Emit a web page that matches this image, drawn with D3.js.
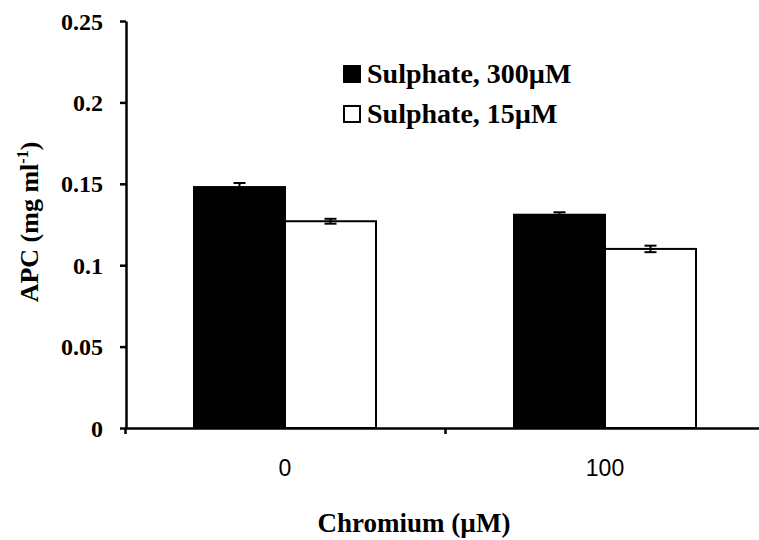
<!DOCTYPE html>
<html>
<head>
<meta charset="utf-8">
<script src="https://cdn.jsdelivr.net/npm/d3@7"></script>
<style>
  body { margin: 0; background: #fff; }
  svg { display: block; }
  .serif { font-family: "Liberation Serif", "Times New Roman", Tinos, "DejaVu Serif", serif; font-weight: bold; }
  .sans { font-family: "Liberation Sans", Arial, sans-serif; }
</style>
</head>
<body>
<svg width="759" height="540"></svg>
<script>

// Chart values
const categories = ["0", "100"];
const seriesNames = ["Sulphate, 300\u00b5M", "Sulphate, 15\u00b5M"];
const highSulphate = [0.148, 0.131];
const lowSulphate = [0.127, 0.110];
const highErr = [0.0025, 0.0015];
const lowErr = [0.0015, 0.002];
const yTicks = [0, 0.05, 0.1, 0.15, 0.2, 0.25];
const yTickLabels = ["0", "0.05", "0.1", "0.15", "0.2", "0.25"];

const fills = ["#000", "#fff"];

drawChart();

/* - - - - - - - - - - - - - - - - - - - - - - - - - -
 * Grouped bar chart with error bars
 * - - - - - - - - - - - - - - - - - - - - - - - - - -
 */
function drawChart(){

    let svg = d3.select("svg");

    let x0 = d3.scaleBand()
        .domain(categories)
        .range([125, 765])
        .padding(0);

    let x1 = d3.scaleBand()
        .domain(seriesNames)
        .range([69, 251])
        .padding(0);

    let y = d3.scaleLinear()
        .domain([0, 0.25])
        .range([428, 21]);

    // one row per bar
    let rows = [];
    categories.forEach(function(c, i){
        rows.push({cat: c, s: seriesNames[0], v: highSulphate[i], e: highErr[i], fill: fills[0]});
        rows.push({cat: c, s: seriesNames[1], v: lowSulphate[i], e: lowErr[i], fill: fills[1]});
    });

    // bars
    svg.append("g")
       .selectAll("rect")
       .data(rows)
       .enter()
       .append("rect")
       .attr("x", function(d){return x0(d.cat) + x1(d.s)})
       .attr("y", function(d){return y(d.v)})
       .attr("width", x1.bandwidth())
       .attr("height", function(d){return y(0) - y(d.v)})
       .attr("fill", function(d){return d.fill})
       .attr("stroke", "#000")
       .attr("stroke-width", 2);

    // error bars
    let err = svg.append("g")
        .attr("stroke", "#000")
        .attr("stroke-width", 2);

    rows.forEach(function(d){
        let cx = x0(d.cat) + x1(d.s) + x1.bandwidth() / 2;
        err.append("line")
           .attr("x1", cx).attr("x2", cx)
           .attr("y1", y(d.v - d.e)).attr("y2", y(d.v + d.e));
        [d.v - d.e, d.v + d.e].forEach(function(v){
            err.append("line")
               .attr("x1", cx - 6).attr("x2", cx + 6)
               .attr("y1", y(v)).attr("y2", y(v));
        });
    });

    // y axis
    let yAxis = svg.append("g")
        .attr("transform", "translate(126,0)")
        .call(d3.axisLeft(y)
                .tickValues(yTicks)
                .tickFormat(function(d, i){return yTickLabels[i]})
                .tickSize(6)
                .tickSizeOuter(0)
                .tickPadding(17));

    yAxis.attr("font-family", null).attr("font-size", null);

    yAxis.selectAll("path, line")
         .attr("stroke", "#000")
         .attr("stroke-width", 2.5);

    yAxis.selectAll("text")
         .attr("class", "serif")
         .attr("font-size", 24)
         .attr("fill", "#000")
         .attr("dy", "0.34em");

    // x axis: ticks at group boundaries
    let xEdges = d3.scaleLinear()
        .domain([0, categories.length])
        .range(x0.range());

    let xAxis = svg.append("g")
        .attr("transform", "translate(0,428)")
        .call(d3.axisBottom(xEdges)
                .tickValues(d3.range(categories.length + 1))
                .tickFormat("")
                .tickSize(6)
                .tickSizeOuter(0));

    xAxis.selectAll("path, line")
         .attr("stroke", "#000")
         .attr("stroke-width", 2.5);

    // x labels at group centres
    let xLabels = svg.append("g")
        .attr("transform", "translate(0,428)")
        .call(d3.axisBottom(x0).tickSize(0).tickPadding(32));

    xLabels.attr("font-family", null).attr("font-size", null);
    xLabels.select(".domain").remove();
    xLabels.selectAll("text")
           .attr("class", "sans")
           .attr("font-size", 23)
           .attr("fill", "#000");

    // axis titles
    svg.append("text")
       .attr("class", "serif")
       .attr("x", 414)
       .attr("y", 532)
       .attr("text-anchor", "middle")
       .attr("font-size", 27)
       .text("Chromium (\u00b5M)");

    let yTitle = svg.append("text")
        .attr("class", "serif")
        .attr("transform", "translate(38,222) rotate(-90)")
        .attr("text-anchor", "middle")
        .attr("font-size", 26);

    yTitle.append("tspan").text("APC (mg ml");
    yTitle.append("tspan").attr("font-size", 16).attr("dy", -10).text("-1");
    yTitle.append("tspan").attr("dy", 10).text(")");

    // legend
    let legend = svg.append("g")
        .attr("transform", "translate(343,65)");

    seriesNames.forEach(function(name, i){
        let row = legend.append("g")
            .attr("transform", "translate(0," + (i * 40) + ")");
        row.append("rect")
           .attr("x", 1).attr("y", 1)
           .attr("width", 16).attr("height", 16)
           .attr("fill", fills[i])
           .attr("stroke", "#000")
           .attr("stroke-width", 2);
        row.append("text")
           .attr("class", "serif")
           .attr("x", 24)
           .attr("y", 18)
           .attr("font-size", 28)
           .text(name);
    });
}
</script>
</body>
</html>
